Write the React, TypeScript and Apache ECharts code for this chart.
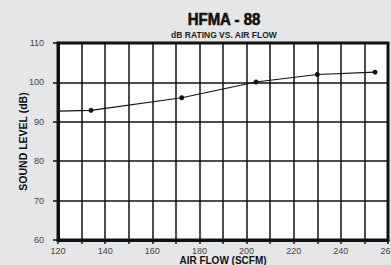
import React, { useEffect, useRef } from "react";
import * as echarts from "echarts";

const airFlow = [120, 134, 172.5, 204, 230, 254.5];
const soundLevel = [92.7, 92.9, 96.1, 100.1, 102, 102.6];
const showSymbol = [false, true, true, true, true, true];
const titleText = "HFMA - 88";
const subtitleText = "dB RATING VS. AIR FLOW";
const xName = "AIR FLOW (SCFM)";
const yName = "SOUND LEVEL (dB)";

export default function App() {
  const ref = useRef<HTMLDivElement>(null);
  useEffect(() => {
    document.body.style.margin = "0";
    if (!ref.current) return;
    const chart = echarts.init(ref.current, null, { renderer: "svg" });
    const data = airFlow.map((x, i) => ({
      value: [x, soundLevel[i]],
      symbolSize: showSymbol[i] ? 5 : 0,
    }));
    chart.setOption({
      animation: false,
      backgroundColor: "#e5e6e8",
      textStyle: { fontFamily: "Liberation Sans, Arial, sans-serif" },
      graphic: [
        {
          type: "text",
          x: 224,
          y: 19,
          scaleX: 0.88,
          style: {
            text: titleText,
            fontFamily: "Liberation Sans, Arial, sans-serif",
            fontWeight: "bold",
            fontSize: 17,
            fill: "#111",
            stroke: "#111",
            lineWidth: 0.6,
            textAlign: "center",
            textVerticalAlign: "middle",
          },
        },
        {
          type: "text",
          x: 224,
          y: 34.5,
          style: {
            text: subtitleText,
            fontFamily: "Liberation Sans, Arial, sans-serif",
            fontWeight: "bold",
            fontSize: 8.5,
            fill: "#222",
            textAlign: "center",
            textVerticalAlign: "middle",
          },
        },
        {
          type: "rect",
          shape: { x: 58, y: 43, width: 330, height: 197 },
          style: { fill: "none", stroke: "#111", lineWidth: 3 },
          z: 10,
          silent: true,
        },
      ],
      grid: {
        left: 58,
        right: 3,
        top: 43,
        bottom: 25,
        show: true,
        backgroundColor: "#ffffff",
        borderWidth: 0,
        containLabel: false,
        outerBoundsMode: "none",
      },
      xAxis: {
        type: "value",
        min: 120,
        max: 260,
        interval: 10,
        name: xName,
        nameLocation: "middle",
        nameGap: 20,
        nameMoveOverlap: false,
        nameTextStyle: { fontWeight: "bold", fontSize: 10, color: "#111", verticalAlign: "middle" },
        axisLine: { show: true, onZero: false, lineStyle: { color: "#111", width: 3 } },
        axisTick: { show: true, length: 4, lineStyle: { color: "#111", width: 1.5 } },
        axisLabel: {
          color: "#444",
          fontSize: 9,
          margin: 6,
          hideOverlap: false,
          formatter: (v: number) => (v % 20 === 0 ? String(v) : ""),
        },
        splitLine: { show: true, lineStyle: { color: "#111", width: 1.5 } },
      },
      yAxis: {
        type: "value",
        min: 60,
        max: 110,
        interval: 10,
        name: yName,
        nameLocation: "middle",
        nameGap: 35,
        nameMoveOverlap: false,
        nameRotate: 90,
        nameTextStyle: { fontWeight: "bold", fontSize: 10.5, color: "#111", verticalAlign: "middle" },
        axisLine: { show: true, lineStyle: { color: "#111", width: 3 } },
        axisTick: { show: true, length: 5, lineStyle: { color: "#111", width: 1.5 } },
        axisLabel: { color: "#444", fontSize: 9, margin: 14 },
        splitLine: { show: true, lineStyle: { color: "#111", width: 1.5 } },
      },
      series: [
        {
          type: "line",
          data,
          symbol: "circle",
          itemStyle: { color: "#111" },
          lineStyle: { color: "#111", width: 1.2 },
          z: 5,
        },
      ],
    });
    return () => chart.dispose();
  }, []);
  return <div ref={ref} style={{ width: 391, height: 265 }} />;
}
